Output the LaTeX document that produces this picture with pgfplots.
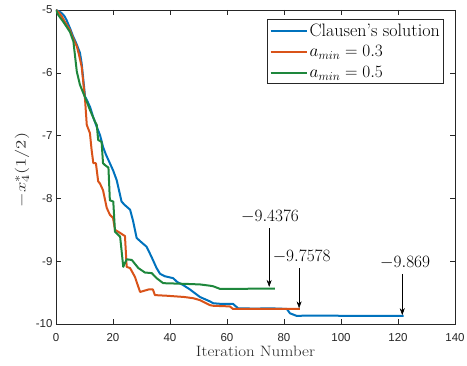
\documentclass[border=0pt]{standalone}
\usepackage{graphicx}
\usepackage{pgfplots}
\pgfplotsset{compat=1.18}
\usetikzlibrary{arrows.meta}
\usepackage{fontspec}
\newfontfamily\tickfont{Liberation Sans}
\definecolor{mblue}{rgb}{0,0.447,0.741}
\definecolor{morange}{rgb}{0.85,0.325,0.098}
\definecolor{mgreen}{RGB}{30,135,60}
\definecolor{axgray}{rgb}{0.15,0.15,0.15}
\begin{document}
\begin{tikzpicture}
\useasboundingbox (-56pt,-42pt) rectangle (411pt,324pt);
\begin{axis}[name=ax, at={(0pt,0pt)}, anchor=south west,
  width=399pt, height=314pt, scale only axis,
  xmin=0, xmax=140, ymin=-10, ymax=-5,
  xtick={0,20,...,140}, xticklabels={0,20,40,60,80,100,120,140},
  ytick={-10,-9,-8,-7,-6,-5}, yticklabels={-10,-9,-8,-7,-6,-5},
  tick align=inside, xtick pos=both, ytick pos=both,
  major tick length=5pt,
  tick label style={font=\tickfont\fontsize{11.5}{13}\selectfont, text=axgray},
  xticklabel style={yshift=-6pt},
  axis line style={axgray, line width=0.5pt},
  tick style={axgray, line width=0.5pt},
  xlabel={\scalebox{1.13}[1]{Iteration Number}}, ylabel={\scalebox{1.3}[1]{$-x_4^*(1/2)$}},
  xlabel style={font=\fontsize{15}{18}\selectfont, text=axgray, at={(axis description cs:0.5,0)}, anchor=base, yshift=-33pt},
  ylabel style={font=\fontsize{15}{18}\selectfont, text=axgray, at={(axis description cs:0,0.5)}, anchor=center, yshift=34pt, xshift=-3pt},
  legend style={at={(rel axis cs:0.9724,0.970)}, anchor=north east, font=\fontsize{18}{21}\selectfont, draw=axgray, line width=0.5pt, inner xsep=2pt, inner ysep=2pt, row sep=4pt},
  legend cell align=left,
  legend image code/.code={\draw[#1, line width=2pt] (0pt,0pt) -- (36pt,0pt);},
  every axis plot/.append style={line width=2pt, line join=round},
]
\addplot[mblue] coordinates {
(0,-5) (1,-5.02) (2,-5.05) (3,-5.1) (3.7,-5.16) (5,-5.3) (6,-5.42) (7,-5.52) (8.4,-5.68) (9,-5.85) (10.2,-6.38) (11,-6.45) (12,-6.55) (13,-6.7) (14.3,-6.86) (15.5,-7.0) (16.5,-7.18) (17.5,-7.3) (19,-7.45) (20,-7.55) (21.3,-7.71) (22,-7.85) (23,-8.05) (24,-8.1) (26,-8.18) (27,-8.35) (28.3,-8.63) (30,-8.7) (31.8,-8.77) (33.5,-8.93) (35.3,-9.11) (36.5,-9.2) (38.2,-9.24) (41.1,-9.27) (42.5,-9.33) (44.6,-9.38) (47,-9.45) (50.5,-9.57) (52,-9.6) (54,-9.64) (55.2,-9.67) (58,-9.68) (62.1,-9.68) (63.9,-9.75) (70,-9.755) (75,-9.75) (81,-9.76) (82.1,-9.83) (84.4,-9.87) (90,-9.866) (100,-9.869) (122,-9.869)
};
\addlegendentry{Clausen's solution}
\addplot[morange] coordinates {
(0,-5) (1,-5.04) (2,-5.1) (3,-5.18) (4.9,-5.32) (6,-5.45) (7.3,-5.58) (8,-5.7) (9,-5.9) (10.2,-6.43) (10.8,-6.83) (11.9,-6.96) (12.5,-7.23) (13.1,-7.44) (14,-7.44) (14.8,-7.73) (15.4,-7.76) (16.5,-7.87) (17.8,-8.15) (18.9,-8.26) (20,-8.31) (20.7,-8.5) (22.5,-8.55) (24.2,-8.6) (24.8,-9.09) (26,-9.11) (27.7,-9.25) (29.5,-9.49) (32.5,-9.45) (34,-9.45) (34.7,-9.54) (38.8,-9.55) (45,-9.57) (48.2,-9.59) (50.5,-9.62) (54,-9.70) (55.2,-9.71) (61,-9.72) (62.1,-9.76) (70,-9.76) (85.6,-9.7578)
};
\addlegendentry{$a_{min}=0.3$}
\addplot[mgreen] coordinates {
(0,-5) (0.8,-5.08) (2.6,-5.19) (4.9,-5.35) (6.1,-5.5) (7.3,-5.98) (8.4,-6.19) (10.8,-6.46) (11.9,-6.59) (13.7,-6.78) (14.3,-6.83) (14.8,-7.07) (16,-7.1) (16.5,-7.44) (17.2,-7.47) (18.4,-7.51) (18.9,-8.03) (20.1,-8.05) (20.7,-8.53) (22.5,-8.61) (23.6,-9.09) (24.8,-8.97) (26.6,-8.98) (28.9,-9.11) (31.2,-9.18) (33.6,-9.19) (35.3,-9.27) (37.6,-9.35) (44.7,-9.36) (50.5,-9.37) (54,-9.39) (55.2,-9.40) (57.5,-9.44) (76.8,-9.4376)
};
\addlegendentry{$a_{min}=0.5$}
\draw[-{Stealth[length=7pt,width=5pt]}, line width=0.5pt] (axis cs:74.8,-8.476) -- (axis cs:74.8,-9.41);
\draw[-{Stealth[length=7pt,width=5pt]}, line width=0.5pt] (axis cs:85.3,-9.11) -- (axis cs:85.3,-9.75);
\draw[-{Stealth[length=7pt,width=5pt]}, line width=0.5pt] (axis cs:121.5,-9.20) -- (axis cs:121.5,-9.86);
\node[font=\fontsize{17}{20}\selectfont, inner sep=0pt] at (axis cs:75.1,-8.29) {$-9.4376$};
\node[font=\fontsize{17}{20}\selectfont, inner sep=0pt] at (axis cs:86.2,-8.93) {$-9.7578$};
\node[font=\fontsize{17}{20}\selectfont, inner sep=0pt] at (axis cs:122.5,-9.03) {$-9.869$};
\end{axis}
\end{tikzpicture}
\end{document}
